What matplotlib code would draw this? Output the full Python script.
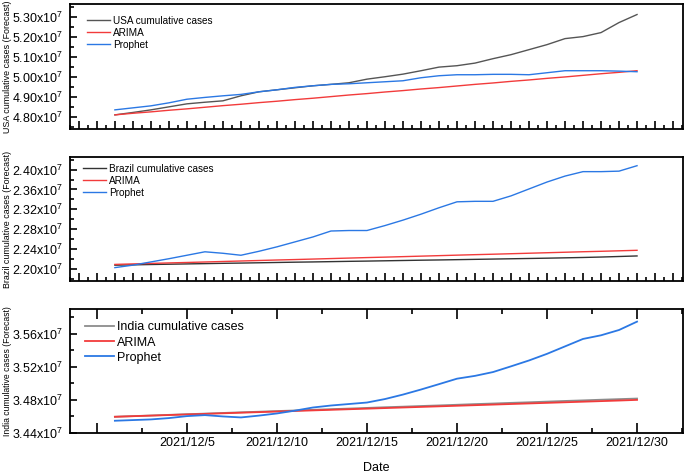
import numpy as np
import matplotlib
matplotlib.use('Agg')
import matplotlib.pyplot as plt
from matplotlib.ticker import MultipleLocator, FixedLocator, FuncFormatter

plt.rcParams['font.family'] = ['Liberation Sans', 'DejaVu Sans']

# day of December 2021
days = list(range(1, 31))
date_ticks = [0, 5, 10, 15, 20, 25, 30]
date_labels = ['', '2021/12/5', '2021/12/10', '2021/12/15', '2021/12/20', '2021/12/25', '2021/12/30']

# values in units of 1e7
usa_actual = [4.810, 4.822, 4.835, 4.850, 4.865, 4.873, 4.880, 4.905, 4.925, 4.935,
              4.945, 4.955, 4.962, 4.970, 4.988, 5.000, 5.013, 5.030, 5.048, 5.055,
              5.068, 5.090, 5.110, 5.135, 5.160, 5.190, 5.200, 5.220, 5.270, 5.310]
usa_arima = [4.810, 4.818, 4.825, 4.833, 4.840, 4.848, 4.856, 4.863, 4.871, 4.878,
             4.886, 4.893, 4.901, 4.909, 4.916, 4.924, 4.931, 4.939, 4.946, 4.954,
             4.962, 4.969, 4.977, 4.984, 4.992, 4.999, 5.007, 5.015, 5.022, 5.030]
usa_prophet = [4.835, 4.845, 4.855, 4.870, 4.888, 4.897, 4.905, 4.912, 4.925, 4.935,
               4.947, 4.955, 4.962, 4.965, 4.970, 4.975, 4.980, 4.995, 5.005, 5.010,
               5.010, 5.012, 5.012, 5.010, 5.020, 5.030, 5.030, 5.030, 5.028, 5.025]

brazil_actual = [2.2070, 2.2076, 2.2083, 2.2089, 2.2095, 2.2101, 2.2107, 2.2112, 2.2118, 2.2124,
                 2.2130, 2.2135, 2.2141, 2.2147, 2.2152, 2.2158, 2.2164, 2.2170, 2.2175, 2.2181,
                 2.2187, 2.2193, 2.2199, 2.2205, 2.2211, 2.2218, 2.2225, 2.2234, 2.2245, 2.2256]
brazil_arima = [2.2085, 2.2095, 2.2105, 2.2115, 2.2124, 2.2134, 2.2144, 2.2154, 2.2164, 2.2174,
                2.2183, 2.2193, 2.2203, 2.2213, 2.2223, 2.2232, 2.2242, 2.2252, 2.2262, 2.2272,
                2.2282, 2.2291, 2.2301, 2.2311, 2.2321, 2.2331, 2.2341, 2.2350, 2.2360, 2.2370]
brazil_prophet = [2.202, 2.207, 2.2135, 2.220, 2.227, 2.234, 2.231, 2.227, 2.235, 2.244,
                  2.254, 2.264, 2.276, 2.277, 2.277, 2.287, 2.298, 2.310, 2.323, 2.335,
                  2.336, 2.336, 2.347, 2.361, 2.375, 2.387, 2.396, 2.396, 2.397, 2.408]

india_actual = [3.4596, 3.4604, 3.4611, 3.4619, 3.4627, 3.4634, 3.4642, 3.4650, 3.4657, 3.4665,
                3.4672, 3.4680, 3.4688, 3.4695, 3.4703, 3.4711, 3.4718, 3.4726, 3.4733, 3.4741,
                3.4749, 3.4756, 3.4764, 3.4771, 3.4779, 3.4787, 3.4794, 3.4802, 3.4809, 3.4816]
india_arima = [3.4596, 3.4603, 3.4610, 3.4617, 3.4624, 3.4631, 3.4638, 3.4645, 3.4652, 3.4659,
               3.4666, 3.4673, 3.4680, 3.4687, 3.4694, 3.4701, 3.4708, 3.4715, 3.4722, 3.4729,
               3.4736, 3.4743, 3.4750, 3.4757, 3.4764, 3.4771, 3.4778, 3.4785, 3.4792, 3.4800]
india_prophet = [3.4548, 3.4556, 3.4564, 3.4580, 3.4604, 3.4616, 3.4600, 3.4588, 3.4610, 3.4636,
                 3.4670, 3.4708, 3.4732, 3.4750, 3.4768, 3.4810, 3.4864, 3.4925, 3.4990, 3.5056,
                 3.5090, 3.5136, 3.5205, 3.5276, 3.5356, 3.5446, 3.5536, 3.5580, 3.5644, 3.5745]

RED = '#f23b3b'
BLUE = '#2b78e4'

fig = plt.figure(figsize=(6.85, 4.74), dpi=100)
ax1 = fig.add_axes([0.102, 0.728, 0.895, 0.264])
ax2 = fig.add_axes([0.102, 0.407, 0.895, 0.262])
ax3 = fig.add_axes([0.102, 0.0865, 0.895, 0.2615])

fmt = FuncFormatter(lambda v, p: r'$\mathregular{%.2fx10^{7}}$' % v)

panels = [
    (ax1, usa_actual, usa_arima, usa_prophet, 'USA cumulative cases', '#555555',
     (4.74, 5.3635), 0.1, 0.05),
    (ax2, brazil_actual, brazil_arima, brazil_prophet, 'Brazil cumulative cases', '#333333',
     (2.1748, 2.4258), 0.04, 0.02),
    (ax3, india_actual, india_arima, india_prophet, 'India cumulative cases', '#8c8c8c',
     (3.44, 3.5897), 0.04, 0.02),
]

for i, (ax, act, ari, pro, name, c, ylim, major, minor) in enumerate(panels):
    lw = 1.0 if i < 2 else 1.3
    ax.plot(days, act, color=c, lw=lw, label=name)
    ax.plot(days, ari, color=RED, lw=lw, label='ARIMA')
    ax.plot(days, pro, color=BLUE, lw=lw, label='Prophet')
    ax.set_xlim(-1.5, 32.55)
    ax.set_ylim(*ylim)
    ax.yaxis.set_major_locator(MultipleLocator(major))
    ax.yaxis.set_minor_locator(MultipleLocator(minor))
    ax.yaxis.set_major_formatter(fmt)
    for s in ax.spines.values():
        s.set_linewidth(1.3)
    ax.tick_params(axis='y', which='both', direction='in', left=True, right=False,
                   labelsize=9, pad=5, width=1.2)
    ax.tick_params(axis='y', which='major', length=5)
    ax.tick_params(axis='y', which='minor', length=3)
    ax.set_ylabel(name + ' (Forecast)', fontsize=6.4 if i < 2 else 6.2)
    ax.yaxis.set_label_coords(-0.094, 0.5)

for ax in (ax1, ax2):
    ax.xaxis.set_major_locator(MultipleLocator(1))
    ax.xaxis.set_minor_locator(MultipleLocator(0.5))
    ax.tick_params(axis='x', which='both', direction='in', labelbottom=False, width=1.2)
    ax.tick_params(axis='x', which='major', length=6)
    ax.tick_params(axis='x', which='minor', length=3)

ax3.xaxis.set_major_locator(FixedLocator(date_ticks))
ax3.set_xticklabels(date_labels)
ax3.xaxis.set_minor_locator(MultipleLocator(2.5))
ax3.tick_params(axis='x', which='both', direction='in', top=True, labelsize=9, pad=3, width=1.2)
ax3.tick_params(axis='x', which='major', length=7)
ax3.tick_params(axis='x', which='minor', length=3.5)
ax3.set_xlabel('Date', fontsize=9, labelpad=9)

ax1.legend(loc='upper left', bbox_to_anchor=(0.028, 0.905), frameon=False, fontsize=7.2,
           borderaxespad=0, borderpad=0, handlelength=2.3, handletextpad=0.3, labelspacing=0.2)
ax2.legend(loc='upper left', bbox_to_anchor=(0.021, 0.945), frameon=False, fontsize=7.2,
           borderaxespad=0, borderpad=0, handlelength=2.3, handletextpad=0.3, labelspacing=0.2)
ax3.legend(loc='upper left', bbox_to_anchor=(0.0245, 0.90), frameon=False, fontsize=9,
           borderaxespad=0, borderpad=0, handlelength=2.3, handletextpad=0.3, labelspacing=0.25)

fig.savefig('out.png', dpi=100)
